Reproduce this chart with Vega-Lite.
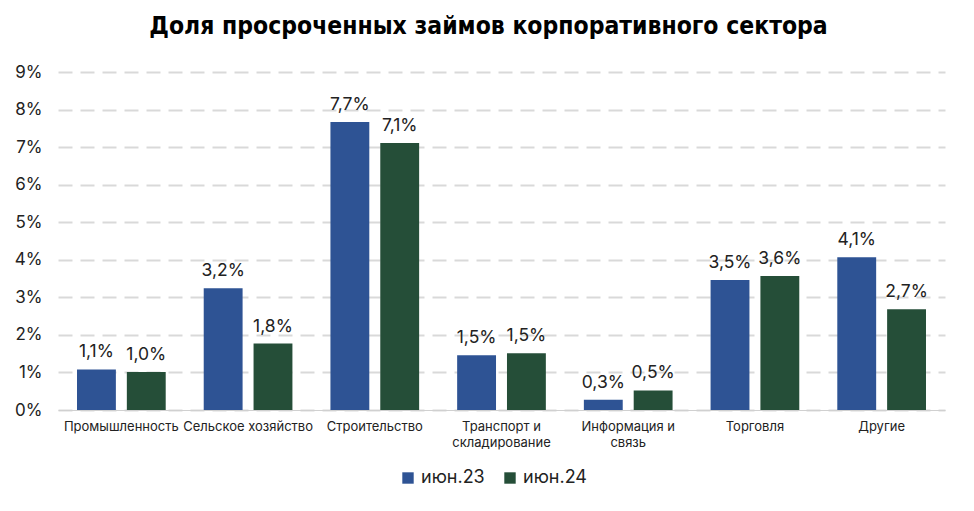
{
  "$schema": "https://vega.github.io/schema/vega-lite/v6.json",
  "autosize": "none",
  "width": 887,
  "height": 338,
  "padding": {"left": 58, "top": 72, "right": 29, "bottom": 101},
  "background": "white",
  "config": {
    "locale": {"number": {"decimal": ",", "thousands": " ", "grouping": [3], "currency": ["", " ₽"]}},
    "font": "Inter",
    "view": {"stroke": null}
  },
  "title": {
    "text": "Доля просроченных займов корпоративного сектора",
    "font": "DejaVu Sans Condensed",
    "fontSize": 24.5,
    "fontWeight": "bold",
    "color": "#000000",
    "anchor": "middle",
    "dx": -13,
    "offset": 24
  },
  "data": {
    "values": [
      {"cat": "Промышленность", "period": "июн.23", "v": 0.0108},
      {"cat": "Промышленность", "period": "июн.24", "v": 0.0101},
      {"cat": "Сельское хозяйство", "period": "июн.23", "v": 0.0324},
      {"cat": "Сельское хозяйство", "period": "июн.24", "v": 0.0177},
      {"cat": "Строительство", "period": "июн.23", "v": 0.0767},
      {"cat": "Строительство", "period": "июн.24", "v": 0.0711},
      {"cat": "Транспорт и складирование", "period": "июн.23", "v": 0.0146},
      {"cat": "Транспорт и складирование", "period": "июн.24", "v": 0.0151},
      {"cat": "Информация и связь", "period": "июн.23", "v": 0.0027},
      {"cat": "Информация и связь", "period": "июн.24", "v": 0.0052},
      {"cat": "Торговля", "period": "июн.23", "v": 0.0346},
      {"cat": "Торговля", "period": "июн.24", "v": 0.0357},
      {"cat": "Другие", "period": "июн.23", "v": 0.0407},
      {"cat": "Другие", "period": "июн.24", "v": 0.0268}
    ]
  },
  "encoding": {
    "x": {
      "field": "cat",
      "type": "nominal",
      "sort": null,
      "title": null,
      "scale": {"paddingInner": 0.3, "paddingOuter": 0.15},
      "axis": {
        "labelAngle": 0,
        "labelFontSize": 13,
        "labelColor": "#222222",
        "labelPadding": 10,
        "labelLineHeight": 16,
        "ticks": false,
        "domainColor": "#d0d0d0",
        "labelExpr": "indexof(datum.value,' и ')>0 ? [slice(datum.value,0,indexof(datum.value,' и ')+2), slice(datum.value,indexof(datum.value,' и ')+3)] : datum.value"
      }
    },
    "xOffset": {"field": "period", "type": "nominal", "scale": {"paddingInner": 0.22}},
    "y": {
      "field": "v",
      "type": "quantitative",
      "title": null,
      "scale": {"domain": [0, 0.09], "nice": false},
      "axis": {
        "format": ".0%",
        "values": [0, 0.01, 0.02, 0.03, 0.04, 0.05, 0.06, 0.07, 0.08, 0.09],
        "labelOverlap": false,
        "labelFontSize": 17,
        "labelColor": "#222222",
        "labelPadding": 16,
        "ticks": false,
        "domain": false,
        "gridColor": "#d9d9d9",
        "gridWidth": 2,
        "gridDash": [14, 8]
      }
    },
    "color": {
      "field": "period",
      "type": "nominal",
      "title": null,
      "scale": {"domain": ["июн.23", "июн.24"], "range": ["#2E5394", "#254E38"]},
      "legend": {
        "orient": "none",
        "legendX": 341,
        "legendY": 397,
        "direction": "horizontal",
        "symbolType": "square",
        "symbolSize": 130,
        "symbolStrokeWidth": 0,
        "labelFontSize": 18,
        "labelColor": "#222222",
        "columnPadding": 16
      }
    }
  },
  "layer": [
    {"mark": {"type": "bar"}},
    {
      "mark": {"type": "text", "baseline": "bottom", "dy": -8, "fontSize": 17.5, "color": "#222222"},
      "encoding": {"text": {"field": "v", "type": "quantitative", "format": ".1%"}, "color": {"value": "#222222"}}
    }
  ]
}
